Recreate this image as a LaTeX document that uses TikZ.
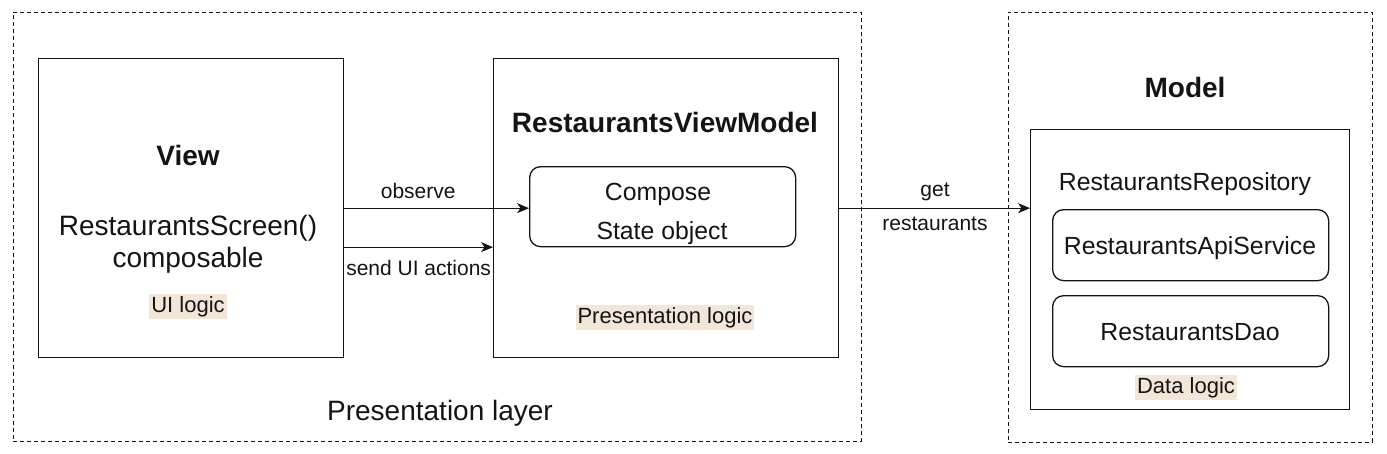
\documentclass[tikz,border=0pt]{standalone}
\usepackage{fontspec}
\setmainfont{Liberation Sans}
\usetikzlibrary{arrows.meta}
\definecolor{hl}{RGB}{242,230,217}
\definecolor{ink}{RGB}{20,20,20}
\tikzset{
  box/.style={draw=ink, line width=1.3pt, anchor=north west, inner sep=0pt},
  rbox/.style={box, rounded corners=11pt},
  dbox/.style={draw=ink, line width=0.9pt, dash pattern=on 4pt off 3pt, anchor=north west, inner sep=0pt},
  lbl/.style={anchor=base, inner sep=0pt, text=ink},
  big/.style={lbl, font=\fontsize{28}{32}\selectfont},
  bigb/.style={lbl, font=\fontsize{28}{32}\selectfont\bfseries},
  mid/.style={lbl, font=\fontsize{24.8}{28}\selectfont},
  sml/.style={lbl, font=\fontsize{21}{24}\selectfont},
  hlt/.style={anchor=base, fill=hl, text=ink, font=\fontsize{22}{24}\selectfont, inner xsep=2pt, inner ysep=2pt, text height=16pt, text depth=4.5pt},
  arr/.style={draw=ink, line width=1pt, -{Stealth[length=12pt,width=10pt,inset=3.5pt]}}
}
\begin{document}
\begin{tikzpicture}[x=1pt,y=-1pt]
\useasboundingbox (0,0) rectangle (1387,453);
% dashed containers
\node[dbox, minimum width=848pt, minimum height=429pt] (pres) at (13,12) {};
\node[dbox, minimum width=364pt, minimum height=430pt] (model) at (1008,12) {};
% main boxes
\node[box, minimum width=305pt, minimum height=299pt] (view) at (38,58) {};
\node[box, minimum width=345pt, minimum height=299pt] (rvm) at (493,58) {};
\node[rbox, minimum width=266pt, minimum height=80pt] (compose) at (529,166) {};
\node[box, minimum width=319pt, minimum height=280pt] (repo) at (1030,129) {};
\node[rbox, minimum width=276pt, minimum height=71pt] (api) at (1052,209) {};
\node[rbox, minimum width=276pt, minimum height=71pt] (dao) at (1052,295) {};
% texts
\node[bigb] (tview) at (188,165) {View};
\node[big] (tscreen) at (188,235) {RestaurantsScreen()};
\node[big] (tcomp) at (188,267) {composable};
\node[hlt] (tui) at (188,312) {UI logic};
\node[bigb] (trvm) at (665,132) {RestaurantsViewModel};
\node[mid] (tcompose) at (658,200) {Compose};
\node[mid] (tstate) at (662,239) {State object};
\node[hlt] (tpl) at (665,323) {Presentation logic};
\node[bigb] (tmodel) at (1185,97) {Model};
\node[mid] (trepo) at (1185,190) {RestaurantsRepository};
\node[mid] (tapi) at (1190,254) {RestaurantsApiService};
\node[mid] (tdao) at (1190,340) {RestaurantsDao};
\node[hlt] (tdl) at (1186,393) {Data logic};
\node[lbl, font=\fontsize{28}{32}\selectfont] (tlayer) at (440,420) {Presentation layer};
% connectors
\draw[arr] (view.east) -- (view.east -| compose.west)
  node[sml, pos=0.4, yshift=10pt] (tobs) {observe};
\draw[arr] ([yshift=-39pt]view.east) -- ([yshift=-39pt]view.east -| rvm.west)
  node[sml, pos=0.5, yshift=-28pt] (tsend) {send UI actions};
\draw[arr] (rvm.east) -- (rvm.east -| repo.west);
\node[sml] (tget) at (935,196) {get};
\node[sml] (trest) at (935,230) {restaurants};
\end{tikzpicture}
\end{document}
